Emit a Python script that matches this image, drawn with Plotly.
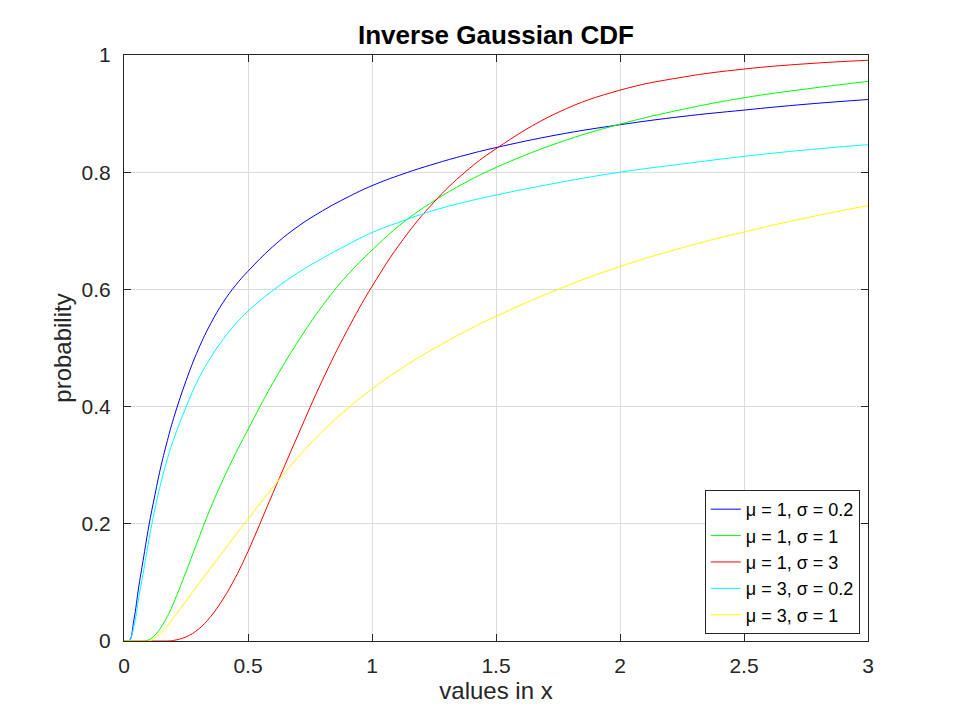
import plotly.graph_objects as go

# values
x_vals = [0, 0.02, 0.04, 0.06, 0.08, 0.1, 0.125, 0.15, 0.175, 0.2, 0.25, 0.3, 0.35,
          0.4, 0.45, 0.5, 0.6, 0.7, 0.8, 0.9, 1.0, 1.125, 1.25, 1.375, 1.5, 1.75,
          2.0, 2.25, 2.5, 2.75, 3.0]

mu1_s02 = [0, 0, 0.036, 0.094, 0.145, 0.196, 0.25, 0.30, 0.342, 0.38, 0.444, 0.498,
           0.542, 0.578, 0.607, 0.631, 0.673, 0.707, 0.734, 0.757, 0.777, 0.797, 0.814,
           0.829, 0.842, 0.864, 0.881, 0.895, 0.906, 0.916, 0.924]
mu1_s1 = [0, 0, 0, 0, 0, 0.002, 0.010, 0.024, 0.042, 0.065, 0.118, 0.174, 0.228,
          0.276, 0.32, 0.361, 0.44, 0.51, 0.572, 0.624, 0.667, 0.714, 0.751, 0.782,
          0.808, 0.85, 0.882, 0.907, 0.927, 0.942, 0.955]
mu1_s3 = [0, 0, 0, 0, 0, 0, 0, 0, 0, 0.001, 0.007, 0.02, 0.042, 0.072, 0.109, 0.153,
          0.252, 0.35, 0.445, 0.53, 0.605, 0.685, 0.749, 0.80, 0.84, 0.902, 0.94,
          0.962, 0.976, 0.985, 0.991]
mu3_s02 = [0, 0, 0.025, 0.075, 0.122, 0.172, 0.226, 0.272, 0.311, 0.344, 0.399, 0.447,
           0.484, 0.515, 0.541, 0.563, 0.598, 0.628, 0.653, 0.676, 0.697, 0.717,
           0.735, 0.749, 0.761, 0.782, 0.800, 0.814, 0.827, 0.838, 0.847]
mu3_s1 = [0, 0, 0, 0, 0, 0, 0.005, 0.014, 0.026, 0.04, 0.068, 0.097, 0.125, 0.153,
          0.181, 0.208, 0.262, 0.313, 0.358, 0.396, 0.43, 0.467, 0.499, 0.528, 0.554,
          0.60, 0.639, 0.671, 0.698, 0.722, 0.743]

labels = ["μ = 1, σ = 0.2", "μ = 1, σ = 1", "μ = 1, σ = 3", "μ = 3, σ = 0.2", "μ = 3, σ = 1"]
colors = ["#0000ff", "#00ff00", "#ff0000", "#00ffff", "#ffff00"]
series = [mu1_s02, mu1_s1, mu1_s3, mu3_s02, mu3_s1]

fig = go.Figure()
for name, col, ys in zip(labels, colors, series):
    fig.add_trace(go.Scatter(x=x_vals, y=ys, mode="lines", name=name,
                             line=dict(color=col, width=1, shape="spline", smoothing=1.2)))

font_name = "Liberation Sans, Arial, sans-serif"

fig.update_layout(
    width=960, height=720,
    paper_bgcolor="white", plot_bgcolor="white",
    margin=dict(l=116, r=100, t=47, b=87),
    font=dict(family=font_name, size=21, color="#262626"),
    title=dict(text="<b>Inverse Gaussian CDF</b>", xref="paper", x=0.5, xanchor="center",
               y=0.9625, yanchor="middle", font=dict(size=26, color="black")),
    legend=dict(x=0.989, y=0.012, xanchor="right", yanchor="bottom",
                bgcolor="white", bordercolor="#262626", borderwidth=1,
                font=dict(size=18, color="black"), itemwidth=30),
    showlegend=True,
)

fig.update_xaxes(range=[0, 3], tickvals=[0, 0.5, 1, 1.5, 2, 2.5, 3],
                 ticktext=["0", "0.5", "1", "1.5", "2", "2.5", "3"],
                 showgrid=True, gridcolor="#dcdcdc", gridwidth=1,
                 zeroline=False, showline=True, linecolor="#262626", linewidth=1,
                 mirror="ticks", ticks="inside", ticklen=7, tickcolor="#262626",
                 ticklabelstandoff=6, automargin=False,
                 title=dict(text="values in x", standoff=2, font=dict(size=24)))
fig.update_yaxes(range=[0, 1], tickvals=[0, 0.2, 0.4, 0.6, 0.8, 1],
                 ticktext=["0", "0.2", "0.4", "0.6", "0.8", "1"],
                 showgrid=True, gridcolor="#dcdcdc", gridwidth=1,
                 zeroline=False, showline=True, linecolor="#262626", linewidth=1,
                 mirror="ticks", ticks="inside", ticklen=7, tickcolor="#262626",
                 ticklabelstandoff=8, automargin=False,
                 title=dict(text="probability", standoff=3, font=dict(size=24)))

fig.write_html("out.html")
